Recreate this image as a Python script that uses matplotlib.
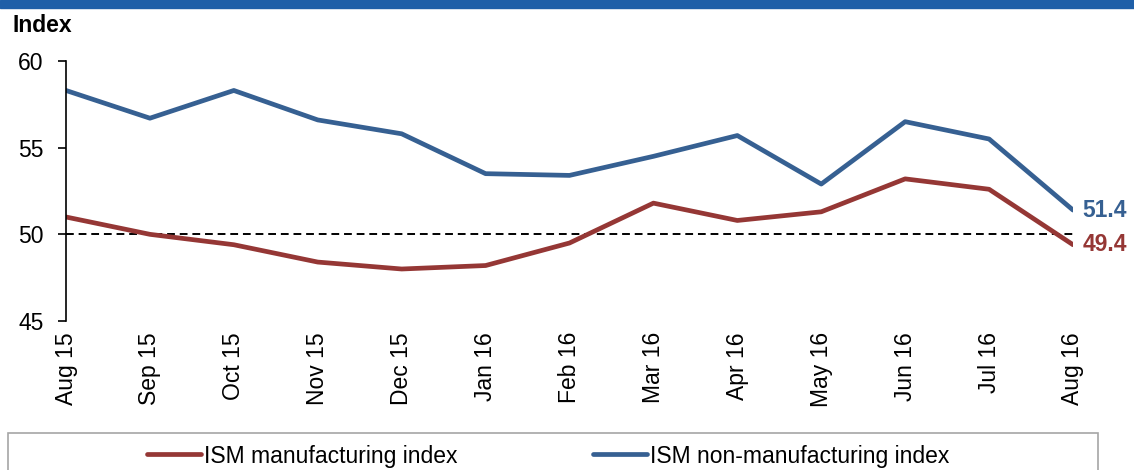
import numpy as np
import matplotlib.pyplot as plt
from matplotlib.patches import Rectangle

plt.rcParams['font.family'] = ['Liberation Sans', 'DejaVu Sans']

months = ["Aug 15", "Sep 15", "Oct 15", "Nov 15", "Dec 15", "Jan 16", "Feb 16",
          "Mar 16", "Apr 16", "May 16", "Jun 16", "Jul 16", "Aug 16"]
ism_mfg = [51.0, 50.0, 49.4, 48.4, 48.0, 48.2, 49.5, 51.8, 50.8, 51.3, 53.2, 52.6, 49.4]
ism_nonmfg = [58.3, 56.7, 58.3, 56.6, 55.8, 53.5, 53.4, 54.5, 55.7, 52.9, 56.5, 55.5, 51.4]

red = "#953735"
blue = "#366092"
fs = 16.5

fig = plt.figure(figsize=(11.34, 4.70), dpi=100)
ax = fig.add_axes([66/1134, 1-321/470, (1073-66)/1134, 260/470])

x = np.arange(len(months))
ax.plot(x, ism_mfg, color=red, lw=3.4, solid_capstyle="round", label="ISM manufacturing index")
ax.plot(x, ism_nonmfg, color=blue, lw=3.4, solid_capstyle="round", label="ISM non-manufacturing index")
ax.axhline(50, color="black", lw=1.4, ls=(0, (4, 2.5)), zorder=1)

# end-of-line value labels
ax.annotate(f"{ism_nonmfg[-1]:.1f}", (x[-1], ism_nonmfg[-1]), xytext=(7, 0), textcoords="offset points",
            color=blue, fontsize=fs, fontweight="bold", va="center", ha="left", annotation_clip=False)
ax.annotate(f"{ism_mfg[-1]:.1f}", (x[-1], ism_mfg[-1]), xytext=(7, 0), textcoords="offset points",
            color=red, fontsize=fs, fontweight="bold", va="center", ha="left", annotation_clip=False)

ax.set_xlim(0, 12)
ax.set_ylim(45, 60)
ax.set_yticks([45, 50, 55, 60])
ax.set_xticks(x)
ax.set_xticklabels(months, rotation=90, fontsize=fs)
ax.tick_params(axis="x", length=0, pad=8)
ax.tick_params(axis="y", direction="out", length=6, width=1.2, labelsize=fs, pad=10)
for s in ["top", "right", "bottom"]:
    ax.spines[s].set_visible(False)
ax.spines["left"].set_linewidth(1.2)

fig.text(12/1134, 1-25/470, "Index", fontsize=fs, fontweight="bold", va="center", ha="left")

# blue title band at the very top (title text is cut off)
fig.patches.append(Rectangle((0, 1-8/470), 1, 8/470, transform=fig.transFigure,
                             color="#1F5FA8", zorder=0))

# legend box
fig.patches.append(Rectangle((8/1134, -0.02), (1098-8)/1134, (470-433)/470 + 0.02,
                             transform=fig.transFigure, fill=False, edgecolor="#A6A6A6", lw=1.2))
fig.legend(loc="center left", bbox_to_anchor=(147/1134, 1-456/470), ncol=2, frameon=False,
           fontsize=fs, handlelength=2.35, handletextpad=0.15, columnspacing=5.9,
           borderpad=0, borderaxespad=0)

fig.savefig("out.png", dpi=100)
